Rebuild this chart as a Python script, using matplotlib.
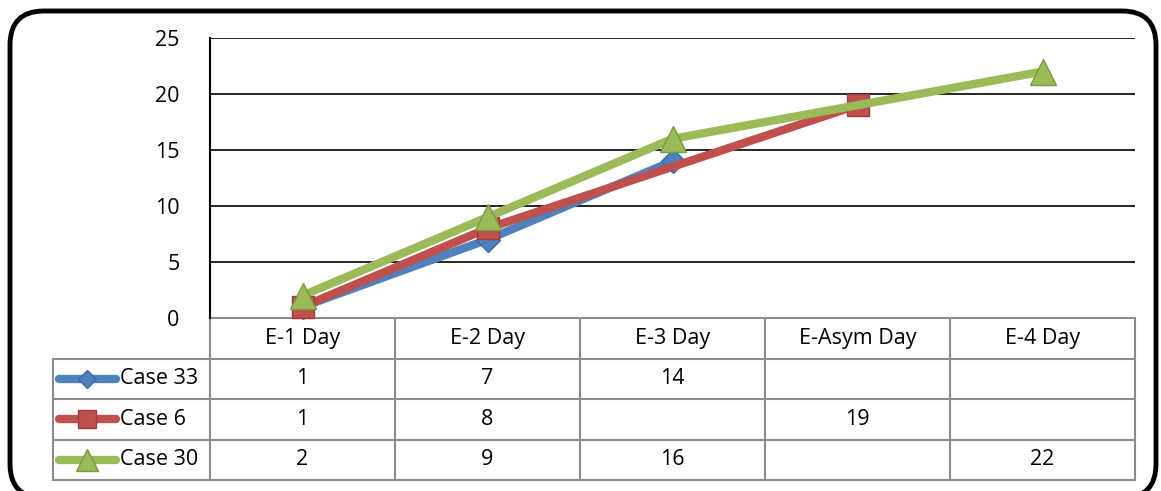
import numpy as np
import matplotlib.pyplot as plt
from matplotlib.patches import FancyBboxPatch
from matplotlib.lines import Line2D

categories = ['E-1 Day', 'E-2 Day', 'E-3 Day', 'E-Asym Day', 'E-4 Day']
series_names = ['Case 33', 'Case 6', 'Case 30']
case33 = [1, 7, 14, None, None]
case6 = [1, 8, None, 19, None]
case30 = [2, 9, 16, None, 22]
yticks = [0, 5, 10, 15, 20, 25]

colors = ['#4F81BD', '#C0504D', '#9BBB59']
edge = ['#3A6AA8', '#A33B38', '#7A9A3E']
markers = ['D', 's', '^']
msizes = [12, 16, 19]

plt.rcParams['font.family'] = ['Open Sans', 'DejaVu Sans']
FS = 15.5

W, H = 1161, 491
fig = plt.figure(figsize=(W / 100, H / 100), dpi=100)

# background axes in pixel units for the rounded frame (y measured upward)
bg = fig.add_axes([0, 0, 1, 1])
bg.set_xlim(0, W)
bg.set_ylim(0, H)
bg.axis('off')
frame = FancyBboxPatch((10, H - 498), 1146, 498 - 11, boxstyle='round,pad=0,rounding_size=34',
                       fill=False, ec='black', lw=3.5, clip_on=True)
bg.add_patch(frame)

x0, x1, ytop, ybot = 210, 1135, 38, 318
ax = fig.add_axes([x0 / W, 1 - ybot / H, (x1 - x0) / W, (ybot - ytop) / H])
ax.set_xlim(-0.5, 4.5)
ax.set_ylim(0, 25)
ax.set_yticks(yticks)
ax.tick_params(axis='y', length=0, labelsize=FS, pad=22)
ax.set_xticks([])
for s in ['top', 'right', 'bottom']:
    ax.spines[s].set_visible(False)
ax.spines['left'].set_color('black')
ax.spines['left'].set_linewidth(1.5)
ax.grid(axis='y', color='black', lw=1.2)
ax.set_axisbelow(True)

data = [case33, case6, case30]
xs = np.arange(len(categories))
for vals, c, ec, m, ms in zip(data, colors, edge, markers, msizes):
    px = [x for x, v in zip(xs, vals) if v is not None]
    py = [v for v in vals if v is not None]
    ax.plot(px, py, color=c, lw=6, marker=m, markersize=ms, mfc=c, mec=ec,
            mew=1, solid_capstyle='round', clip_on=False, zorder=3)

# data table below the plot
row_h = 40.5 / (ybot - ytop)
tr = ax.get_xaxis_transform()
gray = '#8C8C8C'
left = -0.5 - 157 / 185
nrows = 4
for i in range(nrows + 1):
    y = -i * row_h
    xl = -0.5 if i == 0 else left
    ax.plot([xl, 4.5], [y, y], color=gray, lw=1.5, transform=tr, clip_on=False)
for k in range(6):
    xv = k - 0.5
    ax.plot([xv, xv], [0, -nrows * row_h], color=gray, lw=1.5, transform=tr, clip_on=False)
ax.plot([left, left], [-row_h, -nrows * row_h], color=gray, lw=1.5, transform=tr, clip_on=False)

for k, cat in enumerate(categories):
    ax.text(k, -0.5 * row_h, cat, transform=tr, ha='center', va='center', fontsize=FS)

for r, (name, vals) in enumerate(zip(series_names, data)):
    yc = -(r + 1.5) * row_h
    ax.add_line(Line2D([left + 0.03, left + 0.34], [yc, yc], transform=tr, color=colors[r],
                       lw=6, solid_capstyle='round', clip_on=False))
    ax.add_line(Line2D([left + 0.185], [yc], transform=tr, color=colors[r], lw=0,
                       marker=markers[r], markersize=msizes[r] * 0.8, mfc=colors[r],
                       mec=edge[r], clip_on=False))
    ax.text(left + 0.36, yc, name, transform=tr, ha='left', va='center', fontsize=FS)
    for k, v in enumerate(vals):
        if v is not None:
            ax.text(k, yc, str(v), transform=tr, ha='center', va='center', fontsize=FS)

fig.savefig('out.png', dpi=100)
